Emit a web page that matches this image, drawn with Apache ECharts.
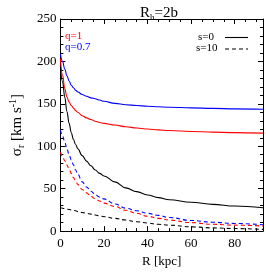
<!DOCTYPE html>
<html>
<head>
<meta charset="utf-8">
<script src="https://cdn.jsdelivr.net/npm/echarts@6/dist/echarts.min.js"></script>
<style>
html,body{margin:0;padding:0;background:#fff;}
#c{width:266px;height:273px;}
</style>
</head>
<body>
<div id="c"></div>
<script>
// Radius (kpc)
const R = [0,1,2,3,4,5,6,7,8,10,12,14,16,18,20,25,30,35,40,45,50,60,70,80,93];
// s=0 (solid)
const q07_s0 = [209,200,191,183,177,172,169,166,164,161,159,157,156,154.5,153,150.5,149,148,147.2,146.6,146,145.2,144.6,144.1,143.6];
const q1_s0  = [203,184,168,158,152,148,145,142,140,136,133.5,131.5,129.5,128,127,125,123,121.5,120.3,119.3,118.5,117.4,116.7,116.1,115.5];
const k_s0   = [194,176,158,141,127,116,108,102,97,89,82.5,77,72,68,65,58,51,46.5,42.5,39.5,37,34,31.5,29.5,27.5];
// s=10 (dashed)
const q07_s10 = [119,112,105,97,90,84,78,72,67,58,52,47,43,40,38,32,27,24,21,18.5,16,12.5,10.5,9,7.5];
const q1_s10  = [93,88,83,78,73,68,63,59,55,49,45,41,38,35.5,33,29,24.5,21,17.5,15,13,10,8,7,6];
const k_s10   = [27.5,27,26.5,26,25.5,25,24.5,24,23,22,21,20,19,18,17,15,13,11,9.5,8,7,5,3.8,3,2];

const xMajor = [0,20,40,60,80];
const yMajor = [0,50,100,150,200,250];
const X_MAX = 93, Y_MAX = 250;

const FONT = 'Liberation Serif';

function pairs(ys){ return R.map((r,i)=>[r,ys[i]]); }

function xAxisDef(pos, interval, len, labels, line){
  return {
    type:'value', position:pos, min:0, max:X_MAX, interval:interval,
    axisLine:{show:line, onZero:false, lineStyle:{color:'#000', width:1}},
    axisTick:{show:true, inside:true, length:len, lineStyle:{color:'#000', width:1}},
    axisLabel:{show:labels, color:'#000', fontFamily:FONT, fontSize:13, margin:6,
      formatter:v=> xMajor.indexOf(v)>=0 ? String(v) : ''},
    splitLine:{show:false}
  };
}
function yAxisDef(pos, interval, len, labels, line){
  return {
    type:'value', position:pos, min:0, max:Y_MAX, interval:interval,
    axisLine:{show:line, onZero:false, lineStyle:{color:'#000', width:1}},
    axisTick:{show:true, inside:true, length:len, lineStyle:{color:'#000', width:1}},
    axisLabel:{show:labels, color:'#000', fontFamily:FONT, fontSize:13, margin:4,
      formatter:v=> yMajor.indexOf(v)>=0 ? String(v) : ''},
    splitLine:{show:false}
  };
}

const xAxes = [
  xAxisDef('bottom', 20, 5, true, true),
  xAxisDef('top', 20, 5, false, true),
  xAxisDef('bottom', 5, 3, false, false),
  xAxisDef('top', 5, 3, false, false)
];
xAxes[0].name = 'R [kpc]';
xAxes[0].nameLocation = 'middle';
xAxes[0].nameGap = 22;
xAxes[0].nameTextStyle = {color:'#000', fontFamily:FONT, fontSize:13};

const yAxes = [
  yAxisDef('left', 50, 5, true, true),
  yAxisDef('right', 50, 5, false, true),
  yAxisDef('left', 10, 3, false, false),
  yAxisDef('right', 10, 3, false, false)
];
yAxes[0].name = '{m|σ}{s|r}{m| [km s}{p|-1}{m|]}';
yAxes[0].nameLocation = 'middle';
yAxes[0].nameRotate = 90;
yAxes[0].nameGap = 28;
yAxes[0].nameTextStyle = {
  color:'#000', fontFamily:FONT, fontSize:15,
  rich:{
    m:{fontFamily:FONT, fontSize:15, lineHeight:18, color:'#000'},
    s:{fontFamily:FONT, fontSize:10, lineHeight:10, verticalAlign:'bottom', color:'#000'},
    p:{fontFamily:FONT, fontSize:10, lineHeight:10, verticalAlign:'top', color:'#000'}
  }
};

function line(name, ys, color, dashed){
  return {
    name:name, type:'line', xAxisIndex:0, yAxisIndex:0,
    data:pairs(ys), showSymbol:false, smooth:0.4, smoothMonotone:'x',
    lineStyle:{color:color, width:1.1, type: dashed ? [4,3] : 'solid'},
    silent:true, animation:false
  };
}

const chart = echarts.init(document.getElementById('c'), null, {renderer:'canvas'});
chart.setOption({
  animation:false,
  backgroundColor:'#fff',
  title:{
    text:'{m|R}{s|h}{m|=2b}',
    left:135, top:0,
    textStyle:{
      fontFamily:FONT, fontSize:15, color:'#000', fontWeight:'normal',
      rich:{
        m:{fontFamily:FONT, fontSize:15, lineHeight:17, color:'#000'},
        s:{fontFamily:FONT, fontSize:9, lineHeight:9, verticalAlign:'bottom', color:'#000'}
      }
    }
  },
  grid:{left:47, right:1, top:19, bottom:36, containLabel:false},
  xAxis:xAxes,
  yAxis:yAxes,
  series:[
    line('q=0.7, s=0', q07_s0, '#0000ff', false),
    line('q=1, s=0', q1_s0, '#ff0000', false),
    line('black, s=0', k_s0, '#000000', false),
    line('q=0.7, s=10', q07_s10, '#0000ff', true),
    line('q=1, s=10', q1_s10, '#ff0000', true),
    line('black, s=10', k_s10, '#000000', true)
  ],
  graphic:[
    {type:'text', left:65, top:31, style:{text:'q=1', fill:'#ff0000', font:'11px "Liberation Serif"'}},
    {type:'text', left:65, top:42, style:{text:'q=0.7', fill:'#0000ff', font:'11px "Liberation Serif"'}},
    {type:'text', left:198, top:32, style:{text:'s=0', fill:'#000', font:'11px "Liberation Serif"'}},
    {type:'text', left:196, top:43, style:{text:'s=10', fill:'#000', font:'11px "Liberation Serif"'}},
    {type:'line', shape:{x1:225, y1:37.5, x2:248, y2:37.5}, style:{stroke:'#000', lineWidth:1.1}},
    {type:'line', shape:{x1:225, y1:49, x2:248, y2:49}, style:{stroke:'#000', lineWidth:1.1, lineDash:[4,3]}}
  ]
});
</script>
</body>
</html>
